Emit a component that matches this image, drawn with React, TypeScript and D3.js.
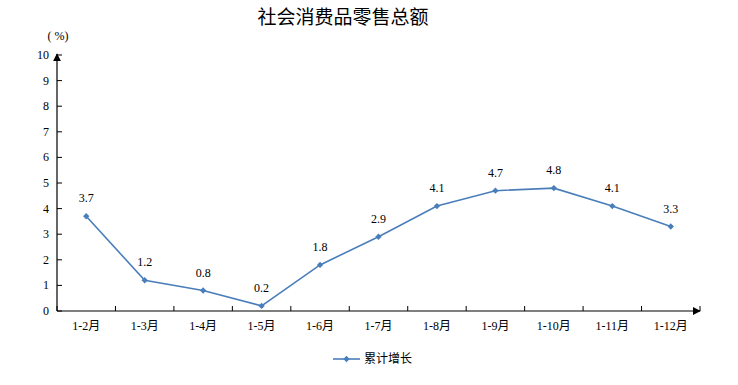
import React from 'react';
import * as d3 from 'd3';

const categories = ['1-2月', '1-3月', '1-4月', '1-5月', '1-6月', '1-7月', '1-8月', '1-9月', '1-10月', '1-11月', '1-12月'];
const growth = [3.7, 1.2, 0.8, 0.2, 1.8, 2.9, 4.1, 4.7, 4.8, 4.1, 3.3];
const yTicks = [0, 1, 2, 3, 4, 5, 6, 7, 8, 9, 10];
const title = '社会消费品零售总额';
const seriesName = '累计增长';

const W = 738;
const H = 385;
const left = 57;
const right = 700;
const top = 55;
const bottom = 311;
const color = '#4a7ebb';
const font = '"Liberation Serif", "Noto Sans CJK SC", serif';

const App = () => {
  const x = d3.scaleBand<string>().domain(categories).range([left, right]);
  const y = d3.scaleLinear().domain([0, 10]).range([bottom, top]);
  const cx = (i: number) => (x(categories[i]) as number) + x.bandwidth() / 2;
  const line = d3.line<number>().x((_, i) => cx(i)).y(d => y(d));
  // square rotated 45deg gives the Excel-style diamond
  const diamond = d3.symbol().type(d3.symbolSquare).size(20)() as string;
  const boundaries = categories.map(c => x(c) as number).concat([right]);

  return (
    <svg width={W} height={H} style={{ position: 'absolute', left: 0, top: 0 }}>
      <defs>
        <marker id="arr" viewBox="0 0 10 10" refX="9" refY="5" markerWidth="8" markerHeight="8" markerUnits="userSpaceOnUse" orient="auto">
          <path d="M0,0 L10,5 L0,10 z" fill="#000" />
        </marker>
      </defs>
      <text x={343} y={24} textAnchor="middle" fontSize={19} fontFamily={font}>{title}</text>
      <text x={58} y={40} textAnchor="middle" fontSize={12} fontFamily={font}>( %)</text>

      {/* y axis */}
      <line x1={left} y1={bottom} x2={left} y2={top - 1} stroke="#000" strokeWidth={1.2} markerEnd="url(#arr)" />
      {yTicks.map(t => (
        <g key={t}>
          <line x1={left} x2={left + 5} y1={y(t)} y2={y(t)} stroke="#000" />
          <text x={left - 8} y={y(t) + 4} textAnchor="end" fontSize={12} fontFamily={font}>{t}</text>
        </g>
      ))}

      {/* x axis */}
      <line x1={left} y1={bottom} x2={right} y2={bottom} stroke="#000" strokeWidth={1.2} markerEnd="url(#arr)" />
      {boundaries.map((b, i) => (
        <line key={i} x1={b} x2={b} y1={bottom} y2={bottom - 5} stroke="#000" />
      ))}
      {categories.map((c, i) => (
        <text key={c} x={cx(i)} y={bottom + 19} textAnchor="middle" fontSize={12} fontFamily={font}>{c}</text>
      ))}

      <path d={line(growth) as string} fill="none" stroke={color} strokeWidth={1.6} />
      {growth.map((v, i) => (
        <g key={i}>
          <path d={diamond} transform={`translate(${cx(i)},${y(v)}) rotate(45)`} fill={color} />
          <text x={cx(i)} y={y(v) - 14} textAnchor="middle" fontSize={12} fontFamily={font}>{v.toFixed(1)}</text>
        </g>
      ))}

      {/* legend */}
      <line x1={333} x2={360} y1={359} y2={359} stroke={color} strokeWidth={1.6} />
      <path d={diamond} transform="translate(346.5,359) rotate(45)" fill={color} />
      <text x={364} y={363} fontSize={12} fontFamily={font}>{seriesName}</text>
    </svg>
  );
};

export default App;
